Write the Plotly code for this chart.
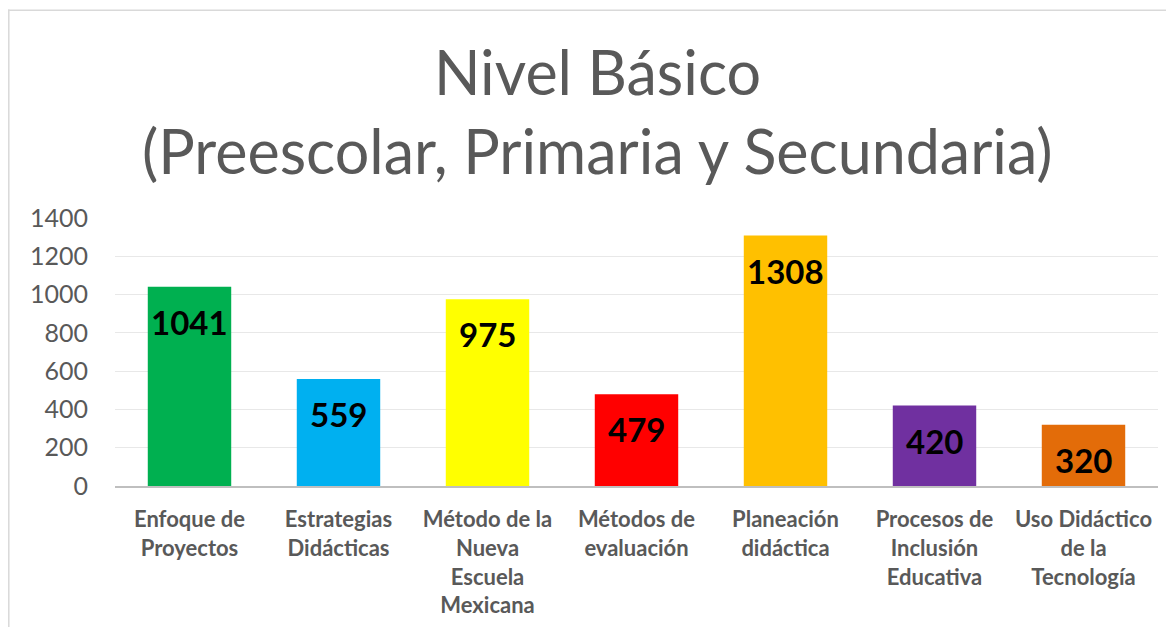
import plotly.graph_objects as go

categories = ["Enfoque de<br>Proyectos", "Estrategias<br>Didácticas", "Método de la<br>Nueva<br>Escuela<br>Mexicana",
              "Métodos de<br>evaluación", "Planeación<br>didáctica", "Procesos de<br>Inclusión<br>Educativa",
              "Uso Didáctico<br>de la<br>Tecnología"]
values = [1041, 559, 975, 479, 1308, 420, 320]
colors = ["#00B050", "#00B0F0", "#FFFF00", "#FF0000", "#FFC000", "#7030A0", "#E36C09"]
y_ticks = [0, 200, 400, 600, 800, 1000, 1200, 1400]

FONT = "Lato"
W, H = 1166, 622
ML, MR, MT, MB = 107, 16, 210, 142

fig = go.Figure()
fig.add_trace(go.Bar(
    x=categories, y=values, marker=dict(color=colors, line=dict(width=0)),
    width=0.56, hoverinfo="x+y",
))
for c, v in zip(categories, values):
    fig.add_annotation(x=c, y=v, xref="x", yref="y", text=str(v), showarrow=False,
                       yanchor="middle", yshift=-35,
                       font=dict(family=FONT, size=33, color="black", weight="bold"))

fig.update_layout(
    width=W, height=H,
    margin=dict(l=ML, r=MR, t=MT, b=MB),
    paper_bgcolor="white", plot_bgcolor="white",
    showlegend=False,
    font=dict(family=FONT),
    bargap=0.44,
    yaxis=dict(range=[0, 1400], tickvals=y_ticks, showgrid=True, gridcolor="#E8E8E8", gridwidth=1,
               zeroline=False, showline=False, ticks="", tickfont=dict(size=25, color="#595959"),
               ticklabelstandoff=26),
    xaxis=dict(showline=True, linecolor="#BFBFBF", linewidth=2, ticks="",
               tickfont=dict(size=22, color="#595959", weight="bold"), tickangle=0,
               ticklabelstandoff=13),
)
H_plot = H - MT - MB
W_plot = W - ML - MR
def py(pix):
    return (H - MB - pix) / H_plot
def px(pix):
    return (pix - ML) / W_plot
fig.add_annotation(text="Nivel Básico", x=px(589), y=py(62), xref="paper", yref="paper",
                   showarrow=False, font=dict(family=FONT, size=61, color="#595959"), yanchor="middle")
fig.add_annotation(text="(Preescolar, Primaria y Secundaria)", x=px(589), y=py(142), xref="paper", yref="paper",
                   showarrow=False, font=dict(family=FONT, size=61, color="#595959"), yanchor="middle")
# chart border
fig.add_shape(type="line", xref="paper", yref="paper", x0=px(0), x1=px(W), y0=py(0.8), y1=py(0.8),
              line=dict(color="#D9D9D9", width=1.5))
fig.add_shape(type="line", xref="paper", yref="paper", x0=px(0.8), x1=px(0.8), y0=py(0), y1=py(H),
              line=dict(color="#D9D9D9", width=1.5))

fig.write_html("out.html")
